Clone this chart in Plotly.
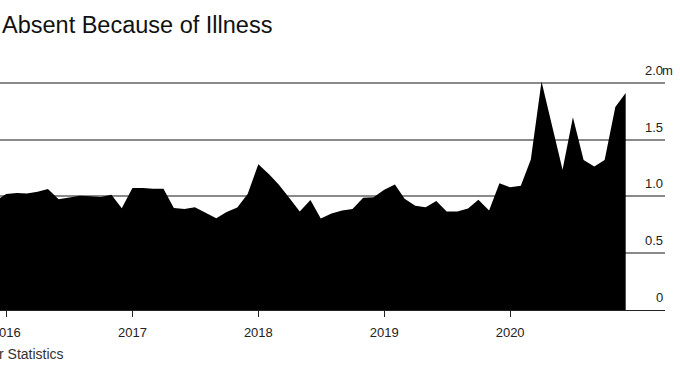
import plotly.graph_objects as go

# Monthly data, Dec 2015 - Dec 2020 (millions)
months = [f"{y}-{m:02d}-01" for y in range(2015, 2021) for m in range(1, 13)][11:]
absent_millions = [
    0.96,
    1.02, 1.03, 1.025, 1.04, 1.065, 0.975, 0.99, 1.005, 1.00, 0.995, 1.013, 0.896,
    1.073, 1.073, 1.066, 1.066, 0.898, 0.888, 0.905, 0.857, 0.808, 0.862, 0.902, 1.02,
    1.283, 1.195, 1.105, 0.985, 0.866, 0.968, 0.806, 0.848, 0.875, 0.888, 0.987, 0.992,
    1.057, 1.105, 0.978, 0.918, 0.903, 0.958, 0.866, 0.866, 0.892, 0.97, 0.875, 1.116,
    1.08, 1.094, 1.325, 2.01, 1.62, 1.235, 1.695, 1.32, 1.262, 1.32, 1.785, 1.91,
]
x_tick_vals = ["2016-01-01", "2017-01-01", "2018-01-01", "2019-01-01", "2020-01-01"]
x_tick_labels = ["2016", "2017", "2018", "2019", "2020"]
y_ticks = [0, 0.5, 1.0, 1.5, 2.0]
y_tick_labels = ["0", "0.5", "1.0", "1.5", "2.0"]
title_text = "Absent Because of Illness"
source_text = "r Statistics"

FONT = "Liberation Sans, Arial, Helvetica, sans-serif"
W, H = 680, 383
ML, MR, MT, MB = 0, 15, 77, 73
plot_h = H - MT - MB

fig = go.Figure()
fig.add_trace(go.Scatter(
    x=months, y=absent_millions, mode="lines",
    line=dict(color="#000000", width=0),
    fill="tozeroy", fillcolor="#000000",
    hoverinfo="x+y", showlegend=False,
))

annotations = []
for v, lab in zip(y_ticks, y_tick_labels):
    annotations.append(dict(
        x=1, xref="paper", y=v, yref="y", text=lab, showarrow=False,
        xanchor="right", yanchor="bottom", yshift=3,
        font=dict(family=FONT, size=13, color="#222222"),
    ))
annotations.append(dict(
    x=1, xref="paper", y=2.0, yref="y", text="m", showarrow=False,
    xanchor="left", yanchor="bottom", yshift=3, xshift=-5,
    font=dict(family=FONT, size=13, color="#222222"),
))
annotations.append(dict(
    x=0, xref="paper", y=(310 - 25) / plot_h, yref="paper", text=title_text,
    showarrow=False, xanchor="left", yanchor="middle", xshift=0,
    font=dict(family=FONT, size=23.5, color="#111111"),
))
annotations.append(dict(
    x=0, xref="paper", y=-(354 - 310) / plot_h, yref="paper", text=source_text,
    showarrow=False, xanchor="left", yanchor="middle", xshift=-3,
    font=dict(family=FONT, size=14, color="#333333"),
))

fig.update_layout(
    width=W, height=H,
    margin=dict(l=ML, r=MR, t=MT, b=MB, autoexpand=False),
    paper_bgcolor="white", plot_bgcolor="white",
    xaxis=dict(
        type="date", range=["2015-12-14", "2021-03-25"],
        tickvals=x_tick_vals, ticktext=x_tick_labels,
        ticklabeloverflow="allow",
        showgrid=False, zeroline=False,
        showline=True, linecolor="#222222", linewidth=1,
        ticks="outside", ticklen=6, tickcolor="#222222", tickwidth=1,
        ticklabelstandoff=4,
        tickfont=dict(family=FONT, size=13, color="#222222"),
        fixedrange=True,
    ),
    yaxis=dict(
        range=[0, 2.05], tickvals=y_ticks, showticklabels=False,
        showgrid=True, gridcolor="#8a8a8a", gridwidth=1.5,
        zeroline=False, showline=False, fixedrange=True,
    ),
    annotations=annotations,
)

fig.write_html(
    "out.html",
    config={"displayModeBar": False},
    post_script="document.body.style.margin='0';document.body.style.padding='0';",
)
